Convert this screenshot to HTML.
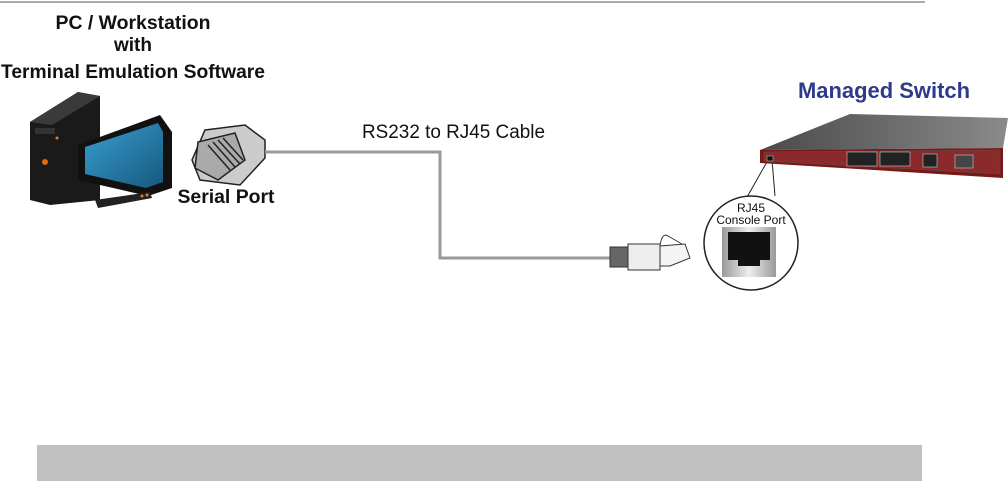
<!DOCTYPE html>
<html><head><style>
body{margin:0;background:#fff;}
svg{display:block;font-family:"Liberation Sans",Arial,sans-serif;}
</style></head><body>
<svg width="1008" height="481" viewBox="0 0 1008 481">
<defs>
<linearGradient id="scr" x1="0" y1="0" x2="1" y2="1"><stop offset="0" stop-color="#3a9fd0"/><stop offset="1" stop-color="#16587e"/></linearGradient>
<linearGradient id="top" x1="0" y1="0" x2="1" y2="0"><stop offset="0" stop-color="#4a4a4a"/><stop offset="1" stop-color="#8a8a8a"/></linearGradient>
<linearGradient id="port" x1="0" y1="0" x2="1" y2="0"><stop offset="0" stop-color="#999"/><stop offset=".5" stop-color="#eee"/><stop offset="1" stop-color="#999"/></linearGradient>
</defs>
<line x1="0" y1="2" x2="925" y2="2" stroke="#aaa" stroke-width="2"/>
<g font-weight="bold" font-size="19" text-anchor="middle" fill="#111">
<text x="133" y="29" textLength="155" lengthAdjust="spacingAndGlyphs">PC / Workstation</text>
<text x="133" y="51">with</text>
<text x="133" y="78" textLength="264" lengthAdjust="spacingAndGlyphs">Terminal Emulation Software</text>
</g>
<!-- tower -->
<polygon points="30,122 78,92 100,96 100,200 50,205 30,200" fill="#1a1a1a"/>
<polygon points="30,122 78,92 100,96 52,125" fill="#3a3a3a"/>
<rect x="35" y="128" width="20" height="6" fill="#333"/>
<circle cx="45" cy="162" r="3" fill="#e06a10"/>
<circle cx="57" cy="138" r="1.5" fill="#e08020"/>
<!-- monitor -->
<polygon points="78,145 160,115 172,132 172,188 148,196 78,180" fill="#111"/>
<polygon points="85,147 158,123 163,132 163,182 146,188 85,174" fill="url(#scr)"/>
<polygon points="95,200 150,192 152,198 98,208" fill="#222"/>
<circle cx="142" cy="196" r="1.5" fill="#e08020"/><circle cx="147" cy="195" r="1.5" fill="#e08020"/>
<!-- serial connector -->
<g stroke="#222" stroke-width="1.5" fill="#ccc">
<polygon points="205,130 245,125 265,140 265,158 240,185 200,180 192,160"/>
<polygon points="198,142 235,133 245,160 218,180 195,168" fill="#aaa"/>
<path d="M208,145 L230,170 M213,142 L235,167 M218,140 L240,164 M223,138 L243,160" fill="none"/>
</g>
<text x="226" y="203" font-weight="bold" font-size="19" text-anchor="middle" fill="#111" textLength="97" lengthAdjust="spacingAndGlyphs">Serial Port</text>
<!-- cable -->
<polyline points="265,152 440,152 440,258 612,258" fill="none" stroke="#999" stroke-width="3"/>
<text x="362" y="138" font-size="19" fill="#111" textLength="183" lengthAdjust="spacingAndGlyphs">RS232 to RJ45 Cable</text>
<!-- rj45 plug -->
<g stroke="#333" stroke-width="1" fill="#ddd">
<rect x="610" y="247" width="20" height="20" fill="#666"/>
<rect x="628" y="244" width="32" height="26" fill="#eee"/>
<polygon points="660,246 685,244 690,258 670,266 660,266" fill="#f4f4f4"/>
<path d="M660,246 Q662,232 668,236 L682,244" fill="none"/>
</g>
<!-- circle detail -->
<line x1="768" y1="160" x2="742" y2="206" stroke="#222"/>
<line x1="772" y1="160" x2="775" y2="196" stroke="#222"/>
<circle cx="751" cy="243" r="47" fill="#fff" stroke="#222" stroke-width="1.5"/>
<text x="751" y="212" font-size="12" text-anchor="middle" fill="#111">RJ45</text>
<text x="751" y="224" font-size="12" text-anchor="middle" fill="#111">Console Port</text>
<rect x="722" y="227" width="54" height="50" fill="url(#port)"/>
<polygon points="728,232 770,232 770,260 760,260 760,266 738,266 738,260 728,260" fill="#111"/>
<!-- switch -->
<text x="884" y="98" font-weight="bold" font-size="22" text-anchor="middle" fill="#2e3a8c" textLength="172" lengthAdjust="spacingAndGlyphs">Managed Switch</text>
<polygon points="760,150 850,114 1008,118 1003,148" fill="url(#top)"/>
<polygon points="760,150 1003,148 1003,178 760,163" fill="#7a1818"/>
<polygon points="764,152 1000,150 1000,174 764,161" fill="#8b2a2a" stroke="#555" stroke-width=".5"/>
<rect x="767" y="156" width="6" height="5" fill="#111" stroke="#ccc" stroke-width=".5"/>
<rect x="847" y="152" width="30" height="14" fill="#222" stroke="#ccc" stroke-width=".6"/>
<rect x="880" y="152" width="30" height="14" fill="#222" stroke="#ccc" stroke-width=".6"/>
<rect x="923" y="154" width="14" height="13" fill="#222" stroke="#ccc" stroke-width=".6"/>
<rect x="955" y="155" width="18" height="13" fill="#444" stroke="#ccc" stroke-width=".6"/>
<!-- bottom bar -->
<rect x="37" y="445" width="885" height="36" fill="#c0c0c0"/>
</svg>
</body></html>
